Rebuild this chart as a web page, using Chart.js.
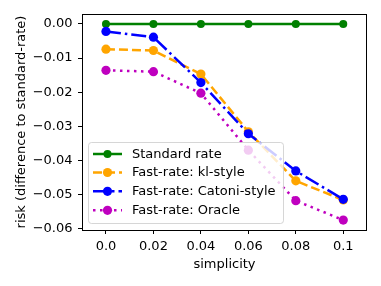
<!DOCTYPE html>
<html>
<head>
<meta charset="utf-8">
<script src="https://cdn.jsdelivr.net/npm/chart.js@4"></script>
<style>
  html, body { margin: 0; padding: 0; background: #fff; }
</style>
</head>
<body>
<canvas id="risk-chart" width="381" height="286"></canvas>
<script>
const simplicity = [0.0, 0.02, 0.04, 0.06, 0.08, 0.1];
const xTickLabels = ["0.0", "0.02", "0.04", "0.06", "0.08", "0.1"];
const yTicks = [0, -0.01, -0.02, -0.03, -0.04, -0.05, -0.06];

const standardRate = [0, 0, 0, 0, 0, 0];
const klStyle = [-0.0074, -0.0078, -0.0147, -0.0316, -0.046, -0.0516];
const catoniStyle = [-0.0022, -0.0039, -0.0172, -0.0322, -0.0431, -0.0514];
const oracle = [-0.0136, -0.014, -0.0203, -0.037, -0.0518, -0.0575];

const FONT = "'DejaVu Sans', sans-serif";
Chart.defaults.font.family = FONT;
Chart.defaults.font.size = 13;
Chart.defaults.color = '#000';

function pts(ys) {
  return simplicity.map((x, i) => ({ x: x, y: ys[i] }));
}

function series(label, ys, color, dash, radius, order) {
  return {
    label: label,
    data: pts(ys),
    borderColor: color,
    backgroundColor: color,
    pointBackgroundColor: color,
    pointBorderColor: color,
    borderWidth: 2.5,
    borderDash: dash,
    borderCapStyle: 'butt',
    pointRadius: radius,
    pointBorderWidth: 0,
    pointHoverRadius: radius,
    tension: 0,
    order: order
  };
}

// frame + legend drawn like matplotlib (legend over the lines, semi-transparent)
const frameAndLegend = {
  id: 'frameAndLegend',
  afterDatasetsDraw(chart) {
    const ctx = chart.ctx;
    const a = chart.chartArea;
    ctx.save();
    ctx.strokeStyle = '#000';
    ctx.lineWidth = 1;
    ctx.setLineDash([]);
    ctx.strokeRect(Math.round(a.left) + 0.5, Math.round(a.top) + 0.5,
                   Math.round(a.right - a.left) - 1, Math.round(a.bottom - a.top));

    const bx = 88.5, by = 142.5, bw = 195, bh = 81, r = 3;
    ctx.beginPath();
    ctx.roundRect(bx, by, bw, bh, r);
    ctx.fillStyle = 'rgba(255,255,255,0.8)';
    ctx.fill();
    ctx.strokeStyle = 'rgba(204,204,204,0.8)';
    ctx.lineWidth = 1;
    ctx.stroke();

    const rows = [154, 172.5, 191.3, 210.3];
    chart.data.datasets.forEach((ds, i) => {
      const y = rows[i];
      ctx.strokeStyle = ds.borderColor;
      ctx.lineWidth = ds.borderWidth;
      ctx.lineCap = 'butt';
      ctx.setLineDash(ds.borderDash || []);
      ctx.beginPath();
      ctx.moveTo(93, y);
      ctx.lineTo(122, y);
      ctx.stroke();
      ctx.setLineDash([]);
      ctx.fillStyle = ds.borderColor;
      ctx.beginPath();
      ctx.arc(107.5, y, ds.pointRadius, 0, Math.PI * 2);
      ctx.fill();
      ctx.fillStyle = '#000';
      ctx.font = '13px ' + FONT;
      ctx.textBaseline = 'middle';
      ctx.textAlign = 'left';
      ctx.fillText(ds.label, 132, y + 0.5);
    });
    ctx.restore();
  }
};

const minus = v => (v < 0 ? '\u2212' : '') + Math.abs(v).toFixed(2);

new Chart(document.getElementById('risk-chart'), {
  type: 'line',
  data: {
    datasets: [
      series('Standard rate', standardRate, '#008000', [], 4, 4),
      series('Fast-rate: kl-style', klStyle, '#FFA500', [9, 4], 4.6, 3),
      series('Fast-rate: Catoni-style', catoniStyle, '#0000FF', [15, 4, 2.5, 4], 4.6, 2),
      series('Fast-rate: Oracle', oracle, '#BF00BF', [2.5, 4.5], 4.6, 1)
    ]
  },
  options: {
    responsive: false,
    animation: false,
    layout: { padding: { top: 14, right: 14, left: 0, bottom: 0 } },
    plugins: {
      legend: { display: false },
      tooltip: { enabled: false }
    },
    scales: {
      x: {
        type: 'linear',
        min: -0.0101,
        max: 0.11,
        afterBuildTicks: s => { s.ticks = simplicity.map(v => ({ value: v })); },
        afterFit: s => { s.height = 56; },
        ticks: {
          autoSkip: false,
          maxRotation: 0,
          padding: 5,
          callback: (v, i) => xTickLabels[i]
        },
        grid: { drawOnChartArea: false, drawTicks: true, tickLength: 4, color: '#000', tickWidth: 1 },
        border: { display: false },
        title: { display: true, text: 'simplicity', padding: { top: 0, bottom: 14 } }
      },
      y: {
        type: 'linear',
        min: -0.0604,
        max: 0.0029,
        afterBuildTicks: s => { s.ticks = yTicks.map(v => ({ value: v })); },
        afterFit: s => { s.width = 82; },
        ticks: {
          padding: 5.5,
          callback: v => minus(v)
        },
        grid: { drawOnChartArea: false, drawTicks: true, tickLength: 4, color: '#000', tickWidth: 1 },
        border: { display: false },
        title: { display: true, text: 'risk (difference to standard-rate)', padding: { top: 14, bottom: 0 } }
      }
    }
  },
  plugins: [frameAndLegend]
});
</script>
</body>
</html>
